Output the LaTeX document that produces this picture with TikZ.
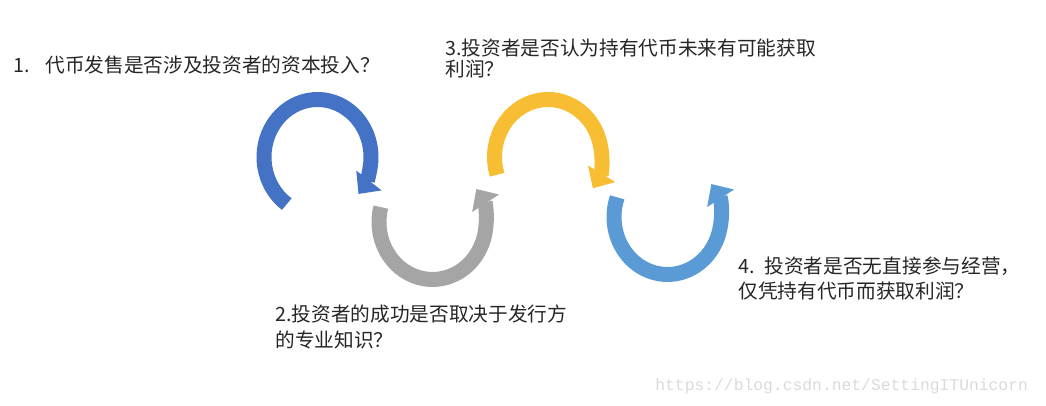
\documentclass[tikz,border=0pt]{standalone}
\usepackage{fontspec}
\setmainfont{Noto Sans CJK SC}
\newfontfamily\urlfont{Liberation Mono}
\usepackage{xcolor}
\usetikzlibrary{arrows.meta, positioning}

\definecolor{ringblue}{HTML}{4472C4}
\definecolor{ringgray}{HTML}{A5A5A5}
\definecolor{ringgold}{HTML}{F8BE33}
\definecolor{ringsky}{HTML}{5B9BD5}
\definecolor{textgray}{HTML}{262626}
\definecolor{markgray}{HTML}{DADADA}

\begin{document}
\begin{tikzpicture}[
    x=0.02cm, y=0.02cm,
    ring/.style={
        line width=0.3cm,
        -{Triangle[width=0.62cm, length=0.34cm]}
    },
    question/.style={
        anchor=west,
        inner sep=0pt,
        align=left,
        text=textgray,
        font=\fontsize{11.2}{14.5}\selectfont
    }
]
\useasboundingbox (0,0) rectangle (1046,406);

% ring centres
\coordinate (c1) at (317.5,249);
\coordinate (c2) at (432.5,184);
\coordinate (c3) at (548,249);
\coordinate (c4) at (667.5,189);

% the four circular arrows
\draw[ring, ringblue] (c1) ++(235:53.5 and 57.5)
    arc[start angle=235, end angle=-40, x radius=53.5, y radius=57.5];
\draw[ring, ringgray] (c2) ++(165:53.5 and 57.5)
    arc[start angle=165, end angle=395, x radius=53.5, y radius=57.5];
\draw[ring, ringgold] (c3) ++(198:53.5 and 57.5)
    arc[start angle=198, end angle=-33, x radius=53.5, y radius=57.5];
\draw[ring, ringsky] (c4) ++(160:53.5 and 57.5)
    arc[start angle=160, end angle=395, x radius=53.5, y radius=57.5];

% questions
\node[question] (q1) at (13,341) {1.\hspace{0.8em}代币发售是否涉及投资者的资本投入？};
\node[question] (q2) at (275,79) {2.投资者的成功是否取决于发行方\\的专业知识？};
\node[question, font=\fontsize{11.2}{11.5}\selectfont] (q3) at (445,347.5)
    {3.投资者是否认为持有代币未来有可能获取\\利润？};
\node[question] (q4) at (738,127.5) {4.\hspace{0.5em}投资者是否无直接参与经营，\\仅凭持有代币而获取利润？};

\node[anchor=west, inner sep=0pt, text=markgray, font=\urlfont\fontsize{9.3}{11}\selectfont]
    (mark) at (655,19.5) {https://blog.csdn.net/SettingITUnicorn};

\end{tikzpicture}
\end{document}
